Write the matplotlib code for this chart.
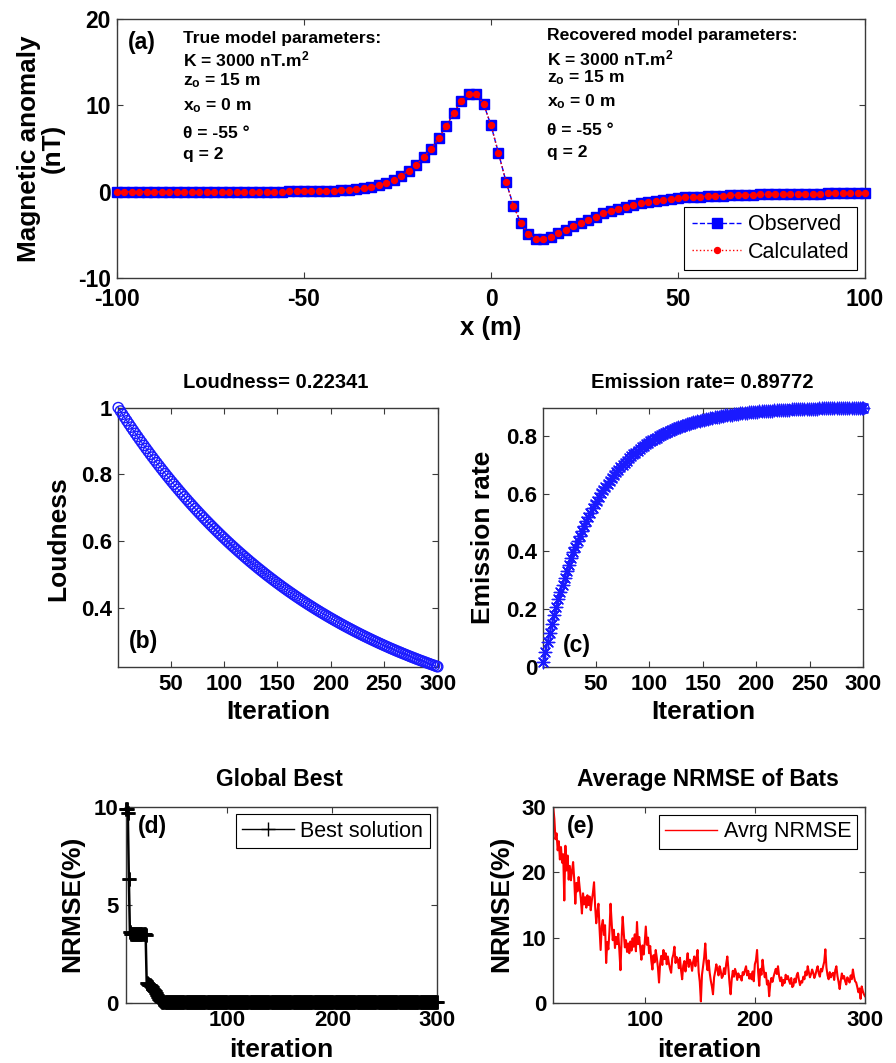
import numpy as np
import matplotlib.pyplot as plt

plt.rcParams['font.family'] = ['Liberation Sans', 'DejaVu Sans']
plt.rcParams['font.weight'] = 'bold'
plt.rcParams['axes.labelweight'] = 'bold'
plt.rcParams['axes.unicode_minus'] = False
plt.rcParams['path.simplify'] = False
plt.rcParams['mathtext.fontset'] = 'custom'
plt.rcParams['mathtext.rm'] = 'Liberation Sans:bold'
plt.rcParams['mathtext.bf'] = 'Liberation Sans:bold'
plt.rcParams['mathtext.it'] = 'Liberation Sans:bold'
plt.rcParams['mathtext.default'] = 'rm'

# (a) magnetic anomaly profile, x = -100..100 m every 2 m
x_pos = np.arange(-100, 101, 2)
observed = [
    0.01, 0.01, 0.01, 0.01, 0.01, 0.01, 0.01, 0.01, 0.01, 0.01, 0.01, 0.02, 0.02, 0.02, 0.02, 0.02,
    0.02, 0.02, 0.03, 0.03, 0.03, 0.04, 0.04, 0.05, 0.05, 0.06,
    0.07, 0.09, 0.11, 0.15, 0.19, 0.25, 0.32, 0.42, 0.55, 0.75,
    1.0, 1.35, 1.85, 2.45, 3.15, 4.0, 5.0, 6.2, 7.6, 9.1,
    10.5, 11.3, 11.3, 10.2, 7.7, 4.5, 1.2, -1.6, -3.6, -4.9,
    -5.4, -5.45, -5.2, -4.8, -4.4, -4.0, -3.55, -3.2, -2.85, -2.5,
    -2.2, -1.95, -1.7, -1.5, -1.3, -1.15, -1.0, -0.9, -0.8, -0.72,
    -0.65, -0.59, -0.54, -0.5, -0.46, -0.42, -0.39, -0.36, -0.34, -0.32,
    -0.3, -0.28, -0.26, -0.25, -0.23, -0.22, -0.21, -0.2, -0.19, -0.18,
    -0.17, -0.17, -0.16, -0.15, -0.15,
]
calculated = list(observed)

# (b), (c) loudness and pulse emission rate of the bats
iter_bc = list(range(1, 300, 2)) + [300]
loudness = [
    1.0000, 0.9900, 0.9801, 0.9704, 0.9607, 0.9511, 0.9416, 0.9322, 0.9229, 0.9137,
    0.9046, 0.8956, 0.8867, 0.8778, 0.8691, 0.8604, 0.8518, 0.8433, 0.8349, 0.8266,
    0.8183, 0.8102, 0.8021, 0.7941, 0.7862, 0.7783, 0.7706, 0.7629, 0.7553, 0.7477,
    0.7403, 0.7329, 0.7256, 0.7183, 0.7112, 0.7041, 0.6970, 0.6901, 0.6832, 0.6764,
    0.6696, 0.6630, 0.6564, 0.6498, 0.6433, 0.6369, 0.6306, 0.6243, 0.6180, 0.6119,
    0.6058, 0.5997, 0.5937, 0.5878, 0.5820, 0.5762, 0.5704, 0.5647, 0.5591, 0.5535,
    0.5480, 0.5425, 0.5371, 0.5318, 0.5265, 0.5212, 0.5160, 0.5109, 0.5058, 0.5007,
    0.4957, 0.4908, 0.4859, 0.4810, 0.4762, 0.4715, 0.4668, 0.4621, 0.4575, 0.4529,
    0.4484, 0.4440, 0.4395, 0.4351, 0.4308, 0.4265, 0.4222, 0.4180, 0.4139, 0.4097,
    0.4057, 0.4016, 0.3976, 0.3936, 0.3897, 0.3858, 0.3820, 0.3782, 0.3744, 0.3707,
    0.3670, 0.3633, 0.3597, 0.3561, 0.3525, 0.3490, 0.3455, 0.3421, 0.3387, 0.3353,
    0.3320, 0.3286, 0.3254, 0.3221, 0.3189, 0.3157, 0.3126, 0.3095, 0.3064, 0.3033,
    0.3003, 0.2973, 0.2943, 0.2914, 0.2885, 0.2856, 0.2828, 0.2799, 0.2771, 0.2744,
    0.2716, 0.2689, 0.2663, 0.2636, 0.2610, 0.2584, 0.2558, 0.2532, 0.2507, 0.2482,
    0.2457, 0.2433, 0.2409, 0.2385, 0.2361, 0.2337, 0.2314, 0.2291, 0.2268, 0.2245,
    0.2234,
]
emission = [
    0.0178, 0.0524, 0.0857, 0.1176, 0.1483, 0.1777, 0.2061, 0.2333, 0.2594, 0.2845,
    0.3087, 0.3318, 0.3541, 0.3755, 0.3961, 0.4159, 0.4348, 0.4531, 0.4706, 0.4874,
    0.5036, 0.5192, 0.5341, 0.5484, 0.5622, 0.5755, 0.5882, 0.6004, 0.6122, 0.6235,
    0.6343, 0.6447, 0.6547, 0.6643, 0.6736, 0.6825, 0.6910, 0.6992, 0.7071, 0.7146,
    0.7219, 0.7289, 0.7356, 0.7420, 0.7482, 0.7542, 0.7599, 0.7654, 0.7707, 0.7757,
    0.7806, 0.7853, 0.7898, 0.7941, 0.7983, 0.8023, 0.8061, 0.8098, 0.8133, 0.8167,
    0.8200, 0.8231, 0.8261, 0.8290, 0.8318, 0.8345, 0.8371, 0.8395, 0.8419, 0.8442,
    0.8464, 0.8485, 0.8505, 0.8524, 0.8543, 0.8561, 0.8578, 0.8595, 0.8611, 0.8626,
    0.8640, 0.8655, 0.8668, 0.8681, 0.8694, 0.8706, 0.8717, 0.8728, 0.8739, 0.8749,
    0.8759, 0.8768, 0.8778, 0.8786, 0.8795, 0.8803, 0.8810, 0.8818, 0.8825, 0.8832,
    0.8838, 0.8845, 0.8851, 0.8857, 0.8862, 0.8868, 0.8873, 0.8878, 0.8883, 0.8887,
    0.8892, 0.8896, 0.8900, 0.8904, 0.8908, 0.8911, 0.8915, 0.8918, 0.8921, 0.8924,
    0.8927, 0.8930, 0.8933, 0.8936, 0.8938, 0.8941, 0.8943, 0.8945, 0.8947, 0.8949,
    0.8951, 0.8953, 0.8955, 0.8957, 0.8959, 0.8960, 0.8962, 0.8963, 0.8965, 0.8966,
    0.8967, 0.8969, 0.8970, 0.8971, 0.8972, 0.8973, 0.8974, 0.8975, 0.8976, 0.8977,
    0.8977,
]

# (d) global best NRMSE, iterations 3..300
iter_d = np.arange(3, 301)
best = ([9.9, 9.9, 9.7, 6.3, 3.6] + [3.5] * 14
        + [3.45, 1.0, 0.95, 0.9, 0.9, 0.85, 0.8, 0.72, 0.65, 0.58, 0.5, 0.4, 0.3,
           0.2, 0.13, 0.08, 0.05]
        + [0.04] * 262)

# (e) average NRMSE of the bats, iterations 17..300
iter_e = np.arange(17, 301)
avg_nrmse = [
    30.0, 28.2, 25.1, 26.0, 23.4, 24.8, 22.0, 23.9, 21.5, 22.8,
    15.7, 24.1, 20.3, 22.6, 18.9, 21.0, 18.8, 20.2, 21.6, 19.0,
    15.2, 18.4, 17.1, 19.3, 17.6, 16.0, 13.7, 16.8, 15.1, 16.2,
    14.6, 16.5, 15.0, 16.3, 14.2, 15.7, 16.9, 18.5, 14.8, 12.2,
    13.9, 15.2, 11.4, 8.1, 11.8, 12.7, 10.4, 11.9, 6.1, 9.3,
    8.2, 11.0, 15.2, 12.3, 9.6, 11.2, 8.4, 10.1, 9.0, 10.6,
    8.0, 5.0, 9.8, 13.2, 10.7, 8.5, 9.6, 7.8, 9.1, 7.6,
    9.4, 8.0, 9.9, 8.6, 10.5, 7.9, 12.4, 9.0, 10.1, 8.3,
    6.6, 8.8, 7.4, 9.2, 11.7, 8.9, 10.0, 7.6, 8.7, 6.4,
    5.1, 7.3, 6.2, 8.1, 6.9, 5.4, 3.1, 6.0, 7.2, 5.8,
    8.1, 6.7, 7.6, 5.9, 7.1, 6.0, 5.2, 4.6, 6.8, 7.4,
    8.6, 6.1, 7.0, 6.6, 5.3, 6.9, 5.0, 3.6, 5.7, 6.4,
    4.8, 6.2, 7.6, 5.5, 6.6, 6.1, 4.9, 6.3, 7.1, 5.6,
    6.8, 8.1, 4.7, 3.2, 0.2, 4.3, 5.6, 7.0, 9.1, 6.2,
    5.0, 6.5, 4.6, 3.4, 2.5, 1.3, 3.9, 4.8, 5.9, 5.1,
    4.2, 5.6, 4.9, 3.8, 4.1, 5.3, 4.4, 6.0, 7.1, 5.2,
    3.0, 1.3, 3.6, 4.9, 4.0, 5.2, 4.6, 3.5, 4.5, 3.9,
    4.1, 3.4, 4.7, 4.3, 5.0, 5.6, 4.2, 4.9, 3.7, 4.4,
    3.6, 4.8, 3.3, 5.9, 6.5, 8.1, 4.7, 2.6, 5.2, 4.3,
    6.6, 5.1, 3.9, 4.6, 2.8, 3.4, 1.0, 2.9, 3.8, 3.2,
    4.0, 4.6, 5.2, 4.4, 5.6, 4.1, 3.3, 3.9, 2.6, 3.5,
    3.0, 4.3, 3.6, 4.1, 3.4, 2.9, 3.8, 2.4, 2.6, 3.7,
    3.1, 4.2, 4.6, 3.5, 2.7, 3.3, 3.1, 4.0, 3.6, 4.8,
    4.2, 5.6, 4.7, 3.9, 4.4, 5.1, 4.6, 3.8, 4.3, 5.0,
    5.6, 4.5, 4.0, 5.2, 4.8, 5.6, 6.3, 8.2, 5.4, 4.2,
    3.6, 4.7, 3.9, 4.4, 4.6, 3.5, 5.0, 5.6, 4.1, 3.2,
    2.1, 3.4, 4.5, 3.7, 4.1, 3.3, 2.8, 3.9, 3.5, 3.1,
    4.2, 3.6, 5.1, 4.0, 3.3, 3.1, 2.4, 1.6, 2.2, 0.6,
    2.5, 1.8, 1.3, 1.0,
]

true_par = ['True model parameters:', 'K = 3000 nT.m$^{2}$', 'z$_{o}$ = 15 m',
            'x$_{o}$ = 0 m', '\u03b8 = -55 \u00b0', 'q = 2']
rec_par = ['Recovered model parameters:', 'K = 3000 nT.m$^{2}$', 'z$_{o}$ = 15 m',
           'x$_{o}$ = 0 m', '\u03b8 = -55 \u00b0', 'q = 2']

spine_col = '#3a3a3a'
blue = '#1a1aff'


def style(ax, labsize=16, xpad=5.5, ypad=4.5):
    ax.tick_params(direction='in', top=True, right=True, length=4, width=0.8,
                   colors=spine_col, labelcolor='black', labelsize=labsize)
    ax.tick_params(axis='x', pad=xpad)
    ax.tick_params(axis='y', pad=ypad)
    for s in ax.spines.values():
        s.set_color(spine_col)
        s.set_linewidth(1.0)


fig = plt.figure(figsize=(8.96, 10.63), dpi=100)

# ---- (a)
ax = fig.add_axes([0.1306, 0.7382, 0.8348, 0.2439])
ax.plot(x_pos, observed, '--s', color='blue', mfc='blue', mec='blue', ms=6.5, lw=1.0,
        label='Observed', clip_on=False, zorder=3)
ax.plot(x_pos, calculated, ':o', color='red', mfc='red', mec='red', ms=4.3, lw=1.0,
        label='Calculated', clip_on=False, zorder=4)
ax.set_xlim(-100, 100)
ax.set_ylim(-10, 20)
ax.set_xticks([-100, -50, 0, 50, 100])
ax.set_yticks([-10, 0, 10, 20])
style(ax, labsize=16.5, xpad=7)
ax.set_ylabel('Magnetic anomaly\n(nT)', fontsize=18.8, va='center', linespacing=1.0)
ax.yaxis.set_label_coords(-0.1016, 0.5)
ax.set_xlabel('x (m)', fontsize=18.5, va='center')
ax.xaxis.set_label_coords(0.5, -0.192)
ax.text(0.0147, 0.911, '(a)', transform=ax.transAxes, fontsize=16.5, va='center',
        ha='left', fontweight='bold')
ys_left = [17.26, 14.49, 12.37, 9.42, 6.27, 3.77]
ys_right = [17.57, 14.68, 12.68, 9.86, 6.58, 4.07]
for s, y in zip(true_par, ys_left):
    ax.text(-82.4, y, s, fontsize=12.6, va='baseline', ha='left', fontweight='bold')
for s, y in zip(rec_par, ys_right):
    ax.text(15.0, y, s, fontsize=12.6, va='baseline', ha='left', fontweight='bold')
leg = ax.legend(loc='lower right', numpoints=1, fancybox=False, framealpha=1,
                edgecolor='black', borderaxespad=0.37, handlelength=2.3,
                handletextpad=0.3, borderpad=0.35, labelspacing=0.3,
                prop={'weight': 'normal', 'size': 15.5})
leg.get_frame().set_linewidth(0.8)

# ---- (b)
ax = fig.add_axes([0.1320, 0.3728, 0.3565, 0.2437])
ax.plot(iter_bc, loudness, '-', color=blue, lw=0.8, clip_on=False)
ax.scatter(iter_bc, loudness, s=55, marker='o', facecolors='none', edgecolors=blue,
           linewidths=1.0, clip_on=False, zorder=3)
ax.set_xlim(1, 300)
ax.set_ylim(0.22341, 1)
ax.set_xticks([50, 100, 150, 200, 250, 300])
ax.set_yticks([0.4, 0.6, 0.8, 1.0])
ax.set_yticklabels(['0.4', '0.6', '0.8', '1'])
style(ax)
ax.set_ylabel('Loudness', fontsize=19, va='center')
ax.yaxis.set_label_coords(-0.189, 0.496)
ax.set_xlabel('Iteration', fontsize=19, va='center')
ax.xaxis.set_label_coords(0.5, -0.175)
ax.text(0.494, 1.098, 'Loudness= 0.22341', transform=ax.transAxes, fontsize=14.5,
        ha='center', va='center', fontweight='bold')
ax.text(0.0335, 0.0965, '(b)', transform=ax.transAxes, fontsize=16.5, va='center',
        ha='left', fontweight='bold')

# ---- (c)
ax = fig.add_axes([0.6064, 0.3728, 0.3571, 0.2437])
ax.plot(iter_bc, emission, '-', color=blue, lw=1.4, clip_on=False)
ax.scatter(iter_bc, emission, s=80, marker=(8, 2, 0), color=blue, linewidths=1.0,
           clip_on=False, zorder=3)
ax.plot(iter_bc[-1], emission[-1], 'o', color=blue, mfc='none', ms=8, mew=0.9,
        clip_on=False)
ax.set_xlim(1, 300)
ax.set_ylim(0, 0.89772)
ax.set_xticks([50, 100, 150, 200, 250, 300])
ax.set_yticks([0, 0.2, 0.4, 0.6, 0.8])
ax.set_yticklabels(['0', '0.2', '0.4', '0.6', '0.8'])
style(ax)
ax.set_ylabel('Emission rate', fontsize=19, va='center')
ax.yaxis.set_label_coords(-0.188, 0.5)
ax.set_xlabel('Iteration', fontsize=19, va='center')
ax.xaxis.set_label_coords(0.5, -0.175)
ax.text(0.496, 1.097, 'Emission rate= 0.89772', transform=ax.transAxes, fontsize=14.5,
        ha='center', va='center', fontweight='bold')
ax.text(0.0616, 0.0838, '(c)', transform=ax.transAxes, fontsize=16.5, va='center',
        ha='left', fontweight='bold')

# ---- (d)
ax = fig.add_axes([0.1403, 0.0567, 0.3478, 0.1844])
ax.plot(iter_d, best, '-+', color='black', lw=1.8, ms=9.5, mew=1.8, label='Best solution',
        clip_on=False)
ax.scatter(iter_d, best, s=90, marker='+', color='black', linewidths=1.8,
           clip_on=False, zorder=3)
ax.set_xlim(3, 300)
ax.set_ylim(0, 10)
ax.set_xticks([100, 200, 300])
ax.set_yticks([0, 5, 10])
style(ax, ypad=5)
ax.set_ylabel('NRMSE(%)', fontsize=19, va='center')
ax.yaxis.set_label_coords(-0.172, 0.507)
ax.set_xlabel('iteration', fontsize=19, va='center')
ax.xaxis.set_label_coords(0.5, -0.241)
ax.text(0.492, 1.140, 'Global Best', transform=ax.transAxes, fontsize=16.5,
        ha='center', va='center', fontweight='bold')
ax.text(0.039, 0.9015, '(d)', transform=ax.transAxes, fontsize=16.5, va='center',
        ha='left', fontweight='bold')
leg = ax.legend(loc='upper right', numpoints=1, fancybox=False, framealpha=1,
                edgecolor='black', borderaxespad=0.35, handlelength=2.4,
                handletextpad=0.3, borderpad=0.3,
                prop={'weight': 'normal', 'size': 15.5})
leg.get_frame().set_linewidth(0.8)
leg.legend_handles[0].set_linewidth(1.0)
leg.legend_handles[0].set_markeredgewidth(1.0)

# ---- (e)
ax = fig.add_axes([0.6175, 0.0567, 0.3479, 0.1838])
ax.plot(iter_e, avg_nrmse, '-', color='red', lw=1.5, label='Avrg NRMSE')
ax.set_xlim(17, 300)
ax.set_ylim(0, 30)
ax.set_xticks([100, 200, 300])
ax.set_yticks([0, 10, 20, 30])
style(ax, ypad=5)
ax.set_ylabel('NRMSE(%)', fontsize=19, va='center')
ax.yaxis.set_label_coords(-0.168, 0.507)
ax.set_xlabel('iteration', fontsize=19, va='center')
ax.xaxis.set_label_coords(0.5, -0.241)
ax.text(0.495, 1.140, 'Average NRMSE of Bats', transform=ax.transAxes, fontsize=16.5,
        ha='center', va='center', fontweight='bold')
ax.text(0.044, 0.9007, '(e)', transform=ax.transAxes, fontsize=16.5, va='center',
        ha='left', fontweight='bold')
leg = ax.legend(loc='upper right', numpoints=1, fancybox=False, framealpha=1,
                edgecolor='black', borderaxespad=0.35, handlelength=2.4,
                handletextpad=0.3, borderpad=0.3,
                prop={'weight': 'normal', 'size': 15.5})
leg.get_frame().set_linewidth(0.8)
leg.legend_handles[0].set_linewidth(1.0)

fig.savefig('out.png', dpi=100)
